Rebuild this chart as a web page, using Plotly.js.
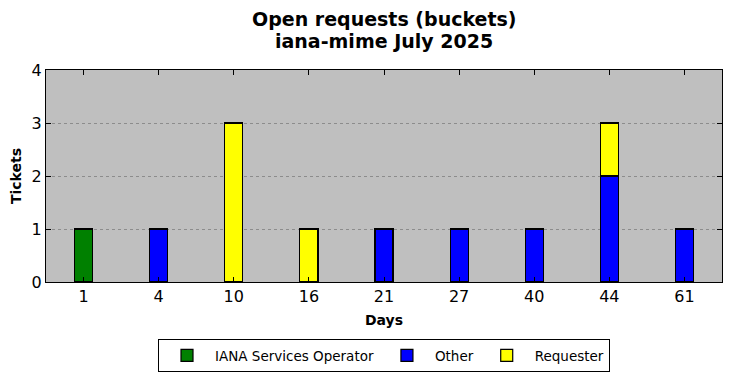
<!DOCTYPE html>
<html>
<head>
<meta charset="utf-8">
<script src="https://cdn.plot.ly/plotly-3.0.1.min.js"></script>
<style>html,body{margin:0;padding:0;background:#fff;}#chart{width:732px;height:378px;}</style>
</head>
<body>
<div id="chart"></div>
<script>
const days = ["1", "4", "10", "16", "21", "27", "40", "44", "61"];
const ianaOperator = [1, 0, 0, 0, 0, 0, 0, 0, 0];
const other = [0, 1, 0, 0, 1, 1, 1, 2, 1];
const requester = [0, 0, 3, 1, 0, 0, 0, 1, 0];
const yTicks = [0, 1, 2, 3, 4];
const titleLines = ["Open requests (buckets)", "iana-mime July 2025"];

const font = "DejaVu Sans, sans-serif";
function series(name, values, color) {
  return {
    type: "bar", name: name, x: days, y: values,
    marker: {color: color, line: {color: "#000", width: 1.2}},
    width: 0.24, hoverinfo: "skip"
  };
}
const data = [
  series("IANA Services Operator", ianaOperator, "#008000"),
  series("Other", other, "#0000ff"),
  series("Requester", requester, "#ffff00")
];
const layout = {
  width: 732, height: 378,
  margin: {l: 46, r: 10, t: 70, b: 96},
  paper_bgcolor: "#fff", plot_bgcolor: "#bfbfbf",
  barmode: "stack",
  font: {family: font, color: "#000"},
  annotations: [
    {text: "<b>" + titleLines[0] + "</b>", xref: "paper", yref: "paper", x: 0.5, y: 1.2406, xanchor: "center", yanchor: "middle", showarrow: false, font: {size: 19}},
    {text: "<b>" + titleLines[1] + "</b>", xref: "paper", yref: "paper", x: 0.5, y: 1.1368, xanchor: "center", yanchor: "middle", showarrow: false, font: {size: 19}}
  ],
  xaxis: {
    type: "category", categoryorder: "array", categoryarray: days,
    range: [-0.5, 8.5],
    showline: true, linecolor: "#000", linewidth: 1, mirror: "ticks",
    ticks: "inside", ticklen: 5, tickcolor: "#000",
    tickfont: {size: 16}, showgrid: false, zeroline: false,
    title: {text: "<b>Days</b>", font: {size: 14}, standoff: 9}
  },
  yaxis: {
    range: [0, 4], tickvals: yTicks,
    showline: true, linecolor: "#000", linewidth: 1, mirror: "ticks",
    ticks: "inside", ticklen: 5, tickcolor: "#000",
    tickfont: {size: 16},
    showgrid: true, gridcolor: "#8c8c8c", griddash: "dot", gridwidth: 1,
    zeroline: false,
    title: {text: "<b>Tickets</b>", font: {size: 14}, standoff: 6}
  },
  showlegend: true,
  legend: {orientation: "h", x: 0.5, xanchor: "center", yref: "container", y: 0.0595, yanchor: "middle",
    bordercolor: "#000", borderwidth: 1, font: {size: 13.5}, traceorder: "normal", itemwidth: 46},
};
Plotly.newPlot("chart", data, layout, {displayModeBar: false, staticPlot: true});
</script>
</body>
</html>
